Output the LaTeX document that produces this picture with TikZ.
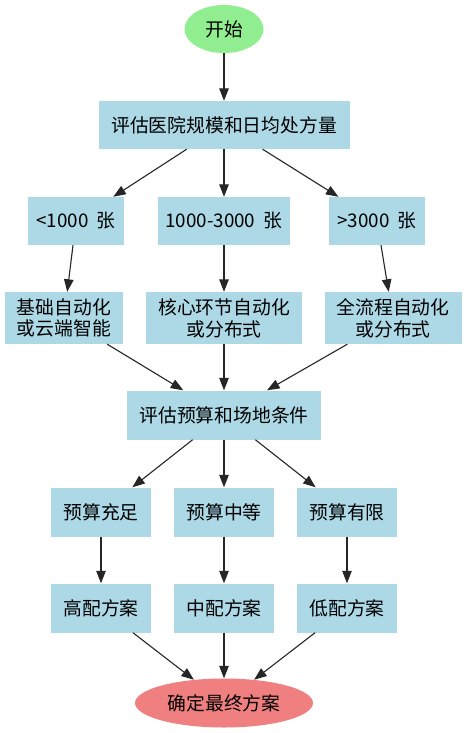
\documentclass[tikz,border=0pt]{standalone}
\usepackage{fontspec}
\setmainfont{Noto Sans CJK SC}
\usetikzlibrary{arrows.meta,shapes.geometric}
\definecolor{boxblue}{HTML}{ADD8E6}
\definecolor{startgreen}{HTML}{90EE90}
\definecolor{endred}{HTML}{F08080}
\begin{document}
\begin{tikzpicture}[x=1bp,y=-1bp,
  every node/.style={font=\fontsize{18.8bp}{21.7bp}\selectfont, inner sep=0pt},
  proc/.style={rectangle, fill=boxblue, minimum height=48bp, align=center},
  term/.style={ellipse, minimum height=48bp},
  conn/.style={-{Triangle[length=12.5bp,width=9.5bp]}, line width=1.1bp, black!85}]
\useasboundingbox (0,0) rectangle (467,733);
\fill[white] (0,0) rectangle (467,733);
% nodes
\node[term, fill=startgreen, minimum width=79bp] (start) at (224,29) {开始};
\node[proc, minimum width=251bp] (eval) at (224,125) {评估医院规模和日均处方量};
\node[proc, minimum width=96bp] (s1) at (76,221) {<1000\ \ 张};
\node[proc, minimum width=132bp] (s2) at (224,221) {1000-3000\ \ 张};
\node[proc, minimum width=96bp] (s3) at (377,221) {>3000\ \ 张};
\node[proc, minimum width=118bp, minimum height=52bp] (a1) at (64,318) {基础自动化\\或云端智能};
\node[proc, minimum width=156bp, minimum height=52bp] (a2) at (224,318) {核心环节自动化\\或分布式};
\node[proc, minimum width=137bp, minimum height=52bp] (a3) at (393,318) {全流程自动化\\或分布式};
\node[proc, minimum width=194bp, minimum height=49bp] (budget) at (224,415) {评估预算和场地条件};
\node[proc, minimum width=100bp, minimum height=49bp] (b1) at (101,512) {预算充足};
\node[proc, minimum width=100bp, minimum height=49bp] (b2) at (224,512) {预算中等};
\node[proc, minimum width=100bp, minimum height=49bp] (b3) at (347,512) {预算有限};
\node[proc, minimum width=100bp, minimum height=49bp] (p1) at (101,608) {高配方案};
\node[proc, minimum width=100bp, minimum height=49bp] (p2) at (224,608) {中配方案};
\node[proc, minimum width=100bp, minimum height=49bp] (p3) at (347,608) {低配方案};
\node[term, fill=endred, minimum width=178bp, minimum height=49bp] (final) at (224,703) {确定最终方案};
% connectors
\draw[conn] (start) -- (eval);
\draw[conn] (eval) -- (s1);
\draw[conn] (eval) -- (s2);
\draw[conn] (eval) -- (s3);
\draw[conn] (s1) -- (a1);
\draw[conn] (s2) -- (a2);
\draw[conn] (s3) -- (a3);
\draw[conn] (a1) -- (budget);
\draw[conn] (a2) -- (budget);
\draw[conn] (a3) -- (budget);
\draw[conn] (budget) -- (b1);
\draw[conn] (budget) -- (b2);
\draw[conn] (budget) -- (b3);
\draw[conn] (b1) -- (p1);
\draw[conn] (b2) -- (p2);
\draw[conn] (b3) -- (p3);
\draw[conn] (p1) -- (final);
\draw[conn] (p2) -- (final);
\draw[conn] (p3) -- (final);
\end{tikzpicture}
\end{document}
